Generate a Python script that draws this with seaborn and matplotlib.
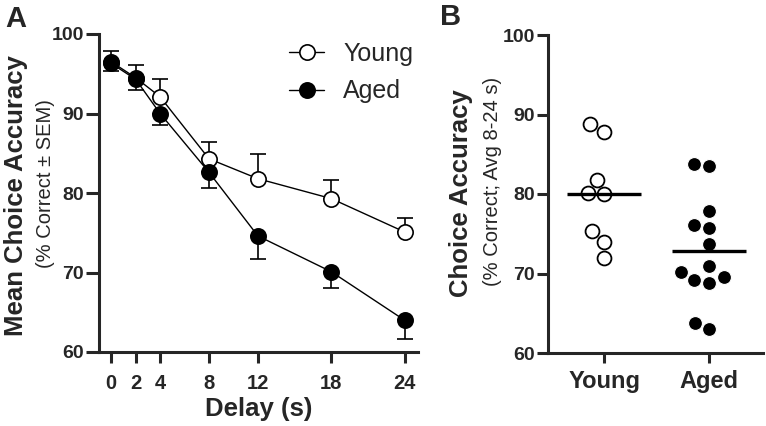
import numpy as np
import pandas as pd
import matplotlib
matplotlib.use("Agg")
import matplotlib.pyplot as plt
import seaborn as sns

# Panel A: mean choice accuracy by delay
delays = [0, 2, 4, 8, 12, 18, 24]
young_mean = [96.5, 94.5, 92.1, 84.3, 81.8, 79.3, 75.1]
young_sem = [1.4, 1.6, 2.2, 2.1, 3.1, 2.3, 1.8]
aged_mean = [96.3, 94.3, 90.0, 82.6, 74.6, 70.1, 64.0]
aged_sem = [1.0, 1.4, 1.4, 2.0, 2.9, 2.0, 2.4]

# Panel B: individual averages over 8-24 s delays
young_pts = [88.8, 87.8, 81.8, 80.1, 80.0, 75.4, 74.0, 72.0]
aged_pts = [83.5, 83.8, 77.9, 76.1, 75.7, 73.7, 70.2, 69.2, 69.5, 70.9, 68.8, 63.0, 63.8]
groups = ["Young", "Aged"]
yticks = [60, 70, 80, 90, 100]

sns.set_style("ticks")
plt.rcParams["font.family"] = ["Liberation Sans", "DejaVu Sans"]

W, H = 766, 426
fig = plt.figure(figsize=(W / 100, H / 100), dpi=100)


def px(x0, y0, x1, y1):
    return [x0 / W, 1 - y1 / H, (x1 - x0) / W, (y1 - y0) / H]


def style_axes(ax, ylen):
    sns.despine(ax=ax)
    for s in ["left", "bottom"]:
        ax.spines[s].set_linewidth(2.2)
    ax.set_ylim(60, 100)
    ax.set_yticks(yticks)
    ax.tick_params(axis="y", width=2.2, length=ylen, pad=1.5, labelsize=14)
    for lab in ax.get_yticklabels():
        lab.set_fontweight("bold")


# ---------- Panel A ----------
axA = fig.add_axes(px(99, 34, 418, 352))
dfA = pd.DataFrame({"delay": delays, "young": young_mean, "aged": aged_mean})

# one-sided SEM bars: up for young, down for aged
axA.errorbar(delays, young_mean, yerr=[np.zeros(len(delays)), young_sem], fmt="none",
             ecolor="black", elinewidth=1.2, capsize=6, capthick=1.2, zorder=1)
axA.errorbar(delays, aged_mean, yerr=[aged_sem, np.zeros(len(delays))], fmt="none",
             ecolor="black", elinewidth=1.2, capsize=6, capthick=1.2, zorder=1)

sns.lineplot(data=dfA, x="delay", y="young", ax=axA, color="black", lw=1.0,
             marker="o", markersize=11, markerfacecolor="white",
             markeredgecolor="black", markeredgewidth=1.2, label="Young")
sns.lineplot(data=dfA, x="delay", y="aged", ax=axA, color="black", lw=1.0,
             marker="o", markersize=11, markerfacecolor="black",
             markeredgecolor="black", markeredgewidth=1.2, label="Aged")

style_axes(axA, 9.5)
axA.set_xlim(-1, 25.1)
axA.set_xticks(delays)
axA.tick_params(axis="x", width=2.2, length=8, pad=7.5, labelsize=14.5)
for lab in axA.get_xticklabels():
    lab.set_fontweight("bold")
axA.set_xlabel("Delay (s)", fontsize=18.5, fontweight="bold", labelpad=3)
axA.set_ylabel("")

leg = axA.legend(loc="upper right", bbox_to_anchor=(0.985, 0.976), frameon=False,
                 fontsize=18, handlelength=1.4, handletextpad=0.75,
                 labelspacing=0.55, borderpad=0, borderaxespad=0)

fig.text(16 / W, 1 - 196 / H, "Mean Choice Accuracy", rotation=90, ha="center",
         va="center", fontsize=18.5, fontweight="bold")
fig.text(46 / W, 1 - 184 / H, "(% Correct \u00b1 SEM)", rotation=90, ha="center",
         va="center", fontsize=14.5)
fig.text(5 / W, 1 - 27 / H, "A", fontsize=21, fontweight="bold", ha="left", va="baseline")

# ---------- Panel B ----------
axB = fig.add_axes(px(548, 35, 763, 353))
dfB = pd.DataFrame({
    "group": ["Young"] * len(young_pts) + ["Aged"] * len(aged_pts),
    "acc": young_pts + aged_pts,
})

sns.swarmplot(data=dfB[dfB.group == "Young"], x="group", y="acc", order=groups, ax=axB,
              color="white", edgecolor="black", linewidth=1.3, size=10)
sns.swarmplot(data=dfB[dfB.group == "Aged"], x="group", y="acc", order=groups, ax=axB,
              color="black", edgecolor="white", linewidth=0.8, size=10)

# group means
for i, g in enumerate(groups):
    m = dfB.loc[dfB.group == g, "acc"].mean()
    axB.hlines(m, i - 0.35, i + 0.35, color="black", lw=2.4, zorder=5)

style_axes(axB, 8)
axB.set_xlim(-0.533, 1.51)
axB.tick_params(axis="x", width=2.2, length=7.5, pad=5, labelsize=17)
for lab in axB.get_xticklabels():
    lab.set_fontweight("bold")
axB.set_xlabel("")
axB.set_ylabel("")

fig.text(461 / W, 1 - 193.5 / H, "Choice Accuracy", rotation=90, ha="center",
         va="center", fontsize=18.5, fontweight="bold")
fig.text(492.5 / W, 1 - 181.5 / H, "(% Correct; Avg 8-24 s)", rotation=90, ha="center",
         va="center", fontsize=14.5)
fig.text(440 / W, 1 - 25 / H, "B", fontsize=21, fontweight="bold", ha="left", va="baseline")

fig.savefig("out.png", dpi=100)
